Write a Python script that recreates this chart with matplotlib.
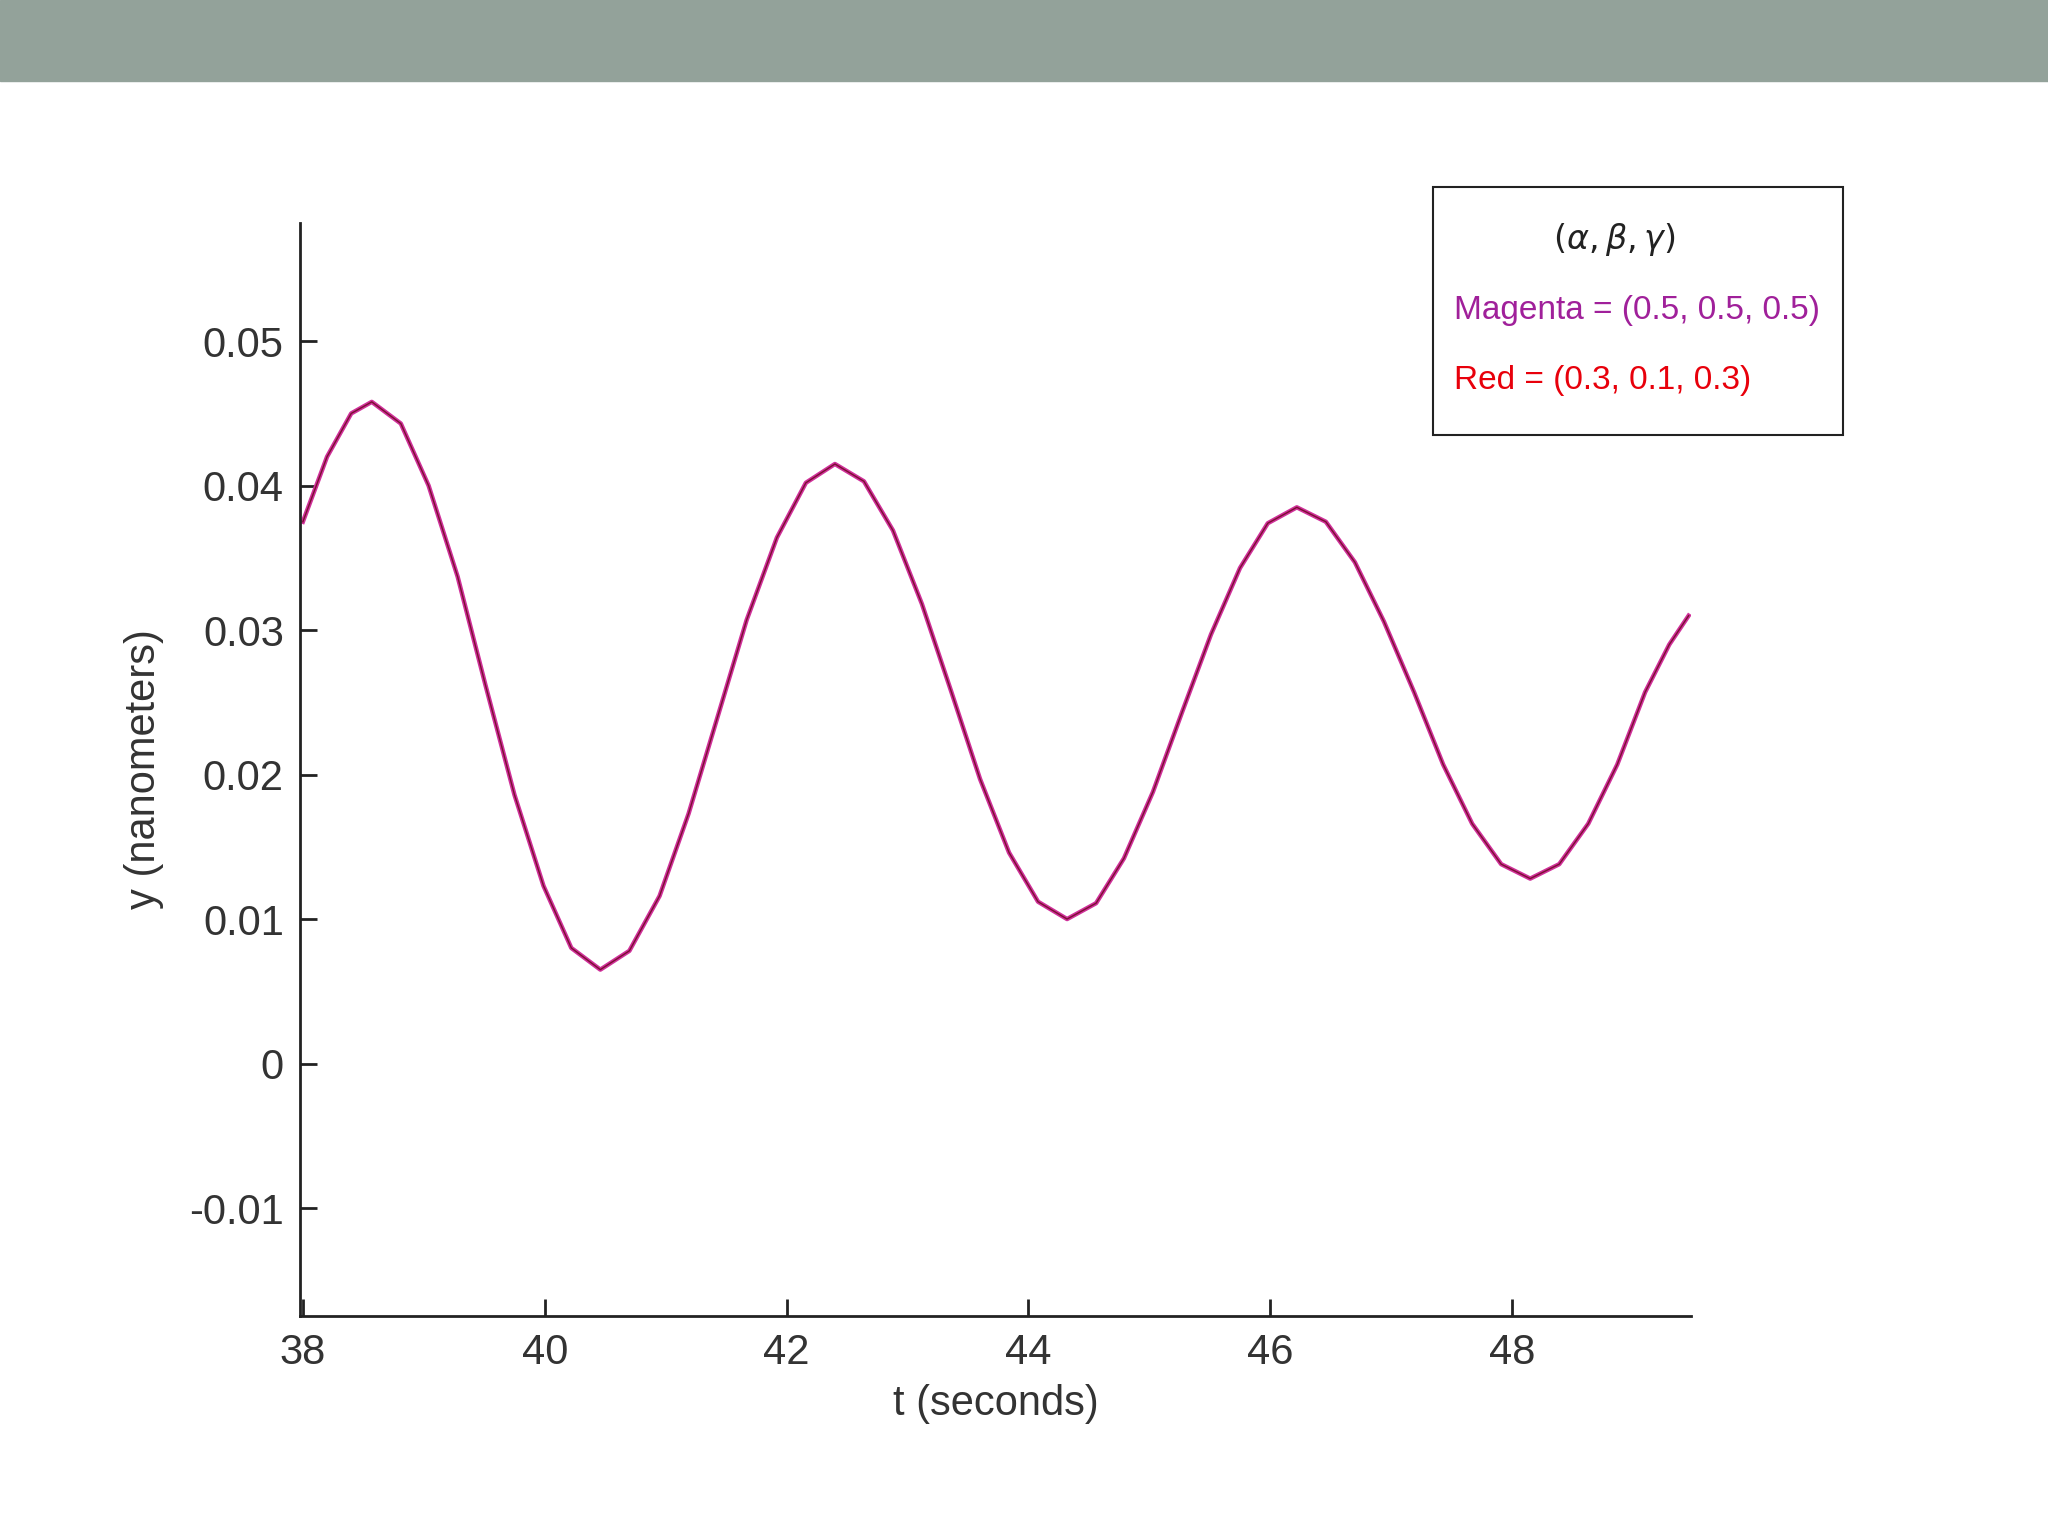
import matplotlib
matplotlib.use("Agg")
import matplotlib.pyplot as plt
from matplotlib.patches import Rectangle

plt.rcParams['font.family'] = ['Liberation Sans', 'DejaVu Sans']

t = [38.0, 38.2, 38.4, 38.57, 38.81, 39.04, 39.28, 39.51, 39.75, 39.99, 40.22, 40.46,
     40.70, 40.95, 41.19, 41.43, 41.67, 41.92, 42.16, 42.40,
     42.64, 42.88, 43.12, 43.36, 43.60, 43.84, 44.08, 44.32,
     44.56, 44.79, 45.03, 45.27, 45.51, 45.75, 45.98, 46.22,
     46.46, 46.70, 46.94, 47.19, 47.43, 47.67, 47.91, 48.15,
     48.39, 48.63, 48.87, 49.10, 49.30, 49.46]
y_magenta = [0.0375, 0.0420, 0.0450, 0.0458, 0.0443, 0.0400, 0.0337, 0.0262, 0.0186, 0.0123, 0.0080, 0.0065,
             0.0078, 0.0116, 0.0173, 0.0240, 0.0307, 0.0364, 0.0402, 0.0415,
             0.0403, 0.0369, 0.0318, 0.0258, 0.0197, 0.0146, 0.0112, 0.0100,
             0.0111, 0.0142, 0.0188, 0.0243, 0.0297, 0.0343, 0.0374, 0.0385,
             0.0375, 0.0347, 0.0306, 0.0257, 0.0207, 0.0166, 0.0138, 0.0128,
             0.0138, 0.0166, 0.0207, 0.0257, 0.0290, 0.0310]
y_red = list(y_magenta)
xticks = [38, 40, 42, 44, 46, 48]
yticks = [-0.01, 0, 0.01, 0.02, 0.03, 0.04, 0.05]
ytick_labels = ["-0.01", "0", "0.01", "0.02", "0.03", "0.04", "0.05"]

fig = plt.figure(figsize=(20.48, 15.36), dpi=100)
fig.patches.append(Rectangle((0, 0.947), 1, 0.053, transform=fig.transFigure,
                             color="#93a29a", zorder=0))

ax = fig.add_axes([0.1467, 0.143, 0.679, 0.712])
ax.plot(t, y_magenta, color="#d0309a", lw=3.2, solid_joinstyle="round")
ax.plot(t, y_red, color="#7a1030", lw=1.0, solid_joinstyle="round")
ax.set_xlim(37.98, 49.48)
ax.set_ylim(-0.0175, 0.0582)
ax.set_xticks(xticks)
ax.set_yticks(yticks)
ax.set_yticklabels(ytick_labels)
for s in ["top", "right"]:
    ax.spines[s].set_visible(False)
for s in ["left", "bottom"]:
    ax.spines[s].set_linewidth(2)
    ax.spines[s].set_color("#222222")
ax.tick_params(direction="in", length=12, width=2, labelsize=30, colors="#222222",
               labelcolor="#333333", pad=12)
ax.set_xlabel("t (seconds)", fontsize=30, color="#333333", labelpad=8)
ax.set_ylabel("y (nanometers)", fontsize=30, color="#333333", labelpad=18)

fig.patches.append(Rectangle((0.6996, 0.7168), 0.2003, 0.1616, transform=fig.transFigure,
                             fill=False, edgecolor="#222222", lw=1.5))
fig.text(0.788, 0.844, r"$(\alpha,\beta,\gamma)$", fontsize=24, ha="center", va="center",
         color="#222222")
fig.text(0.710, 0.798, "Magenta = (0.5, 0.5, 0.5)", fontsize=24, ha="left", va="center",
         color="#a0209a")
fig.text(0.710, 0.752, "Red = (0.3, 0.1, 0.3)", fontsize=24, ha="left", va="center",
         color="#e8000b")

fig.savefig("out.png", dpi=100)
